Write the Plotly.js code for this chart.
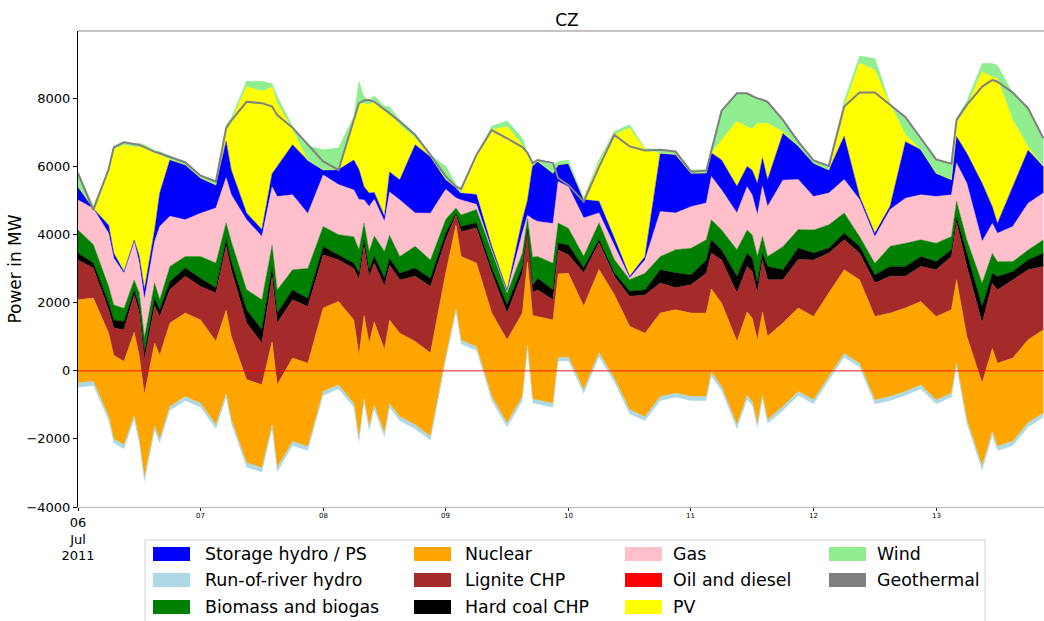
<!DOCTYPE html>
<html>
<head>
<meta charset="utf-8">
<script src="https://cdn.plot.ly/plotly-3.0.1.min.js"></script>
<style>html,body{margin:0;padding:0;background:#fff}</style>
</head>
<body>
<div id="chart" style="width:1044px;height:621px"></div>
<script>
// CZ generation snapshots, 6-13 July 2011 (MW)
const times = [
  '2011-07-06 00:00','2011-07-06 03:00','2011-07-06 06:00','2011-07-06 07:00','2011-07-06 09:00','2011-07-06 11:00','2011-07-06 12:00','2011-07-06 13:00','2011-07-06 15:00','2011-07-06 16:00','2011-07-06 18:00','2011-07-06 21:00',
  '2011-07-07 00:00','2011-07-07 03:00','2011-07-07 05:00','2011-07-07 06:00','2011-07-07 09:00','2011-07-07 12:00','2011-07-07 14:00','2011-07-07 15:00','2011-07-07 18:00','2011-07-07 21:00',
  '2011-07-08 00:00','2011-07-08 03:00','2011-07-08 06:00','2011-07-08 07:00','2011-07-08 08:00','2011-07-08 09:00','2011-07-08 10:00','2011-07-08 12:00','2011-07-08 13:00','2011-07-08 15:00','2011-07-08 18:00','2011-07-08 21:00',
  '2011-07-09 00:00','2011-07-09 02:00','2011-07-09 03:00','2011-07-09 06:00','2011-07-09 09:00','2011-07-09 12:00','2011-07-09 15:00','2011-07-09 16:00','2011-07-09 17:00','2011-07-09 18:00','2011-07-09 21:00','2011-07-09 22:00',
  '2011-07-10 00:00','2011-07-10 03:00','2011-07-10 06:00','2011-07-10 09:00','2011-07-10 12:00','2011-07-10 15:00','2011-07-10 18:00','2011-07-10 21:00',
  '2011-07-11 00:00','2011-07-11 03:00','2011-07-11 04:00','2011-07-11 06:00','2011-07-11 09:00','2011-07-11 11:00','2011-07-11 12:00','2011-07-11 13:00','2011-07-11 14:00','2011-07-11 15:00','2011-07-11 18:00','2011-07-11 21:00',
  '2011-07-12 00:00','2011-07-12 03:00','2011-07-12 06:00','2011-07-12 09:00','2011-07-12 12:00','2011-07-12 15:00','2011-07-12 18:00','2011-07-12 21:00',
  '2011-07-13 00:00','2011-07-13 03:00','2011-07-13 04:00','2011-07-13 06:00','2011-07-13 09:00','2011-07-13 11:00','2011-07-13 12:00','2011-07-13 15:00','2011-07-13 18:00','2011-07-13 21:00'
];

// Net balance below the generation stack (exports / pumping)
const balance = [
  -490,-440,-1470,-2120,-2300,-1440,-2150,-3270,-1760,-2120,-1170,-880,
  -1080,-1710,-800,-1560,-2830,-2980,-1720,-2980,-2200,-2350,
  -730,-540,-1080,-2120,-950,-1760,-1140,-1950,-1090,-1470,-1710,-2050,
  300,1700,780,590,-880,-1660,-880,620,-950,-980,-1080,270,
  290,-680,400,-340,-1270,-1470,-880,-780,
  -880,-880,-170,-590,-1710,-850,-1030,-1680,-850,-1560,-1170,-730,
  -980,-290,390,100,-980,-880,-730,-540,
  -980,-780,100,-1560,-2930,-1920,-2350,-2200,-1660,-1370
];

const runOfRiver = [
  130,130,120,120,120,120,120,120,120,120,120,120,
  120,120,120,130,130,130,130,130,120,120,
  120,120,120,120,120,120,120,120,120,120,120,120,
  110,110,110,110,120,120,120,120,120,120,120,110,
  110,120,120,120,120,120,120,120,
  120,120,120,120,120,120,120,120,120,120,120,120,
  120,120,110,110,120,120,120,120,
  120,120,110,120,130,130,130,130,130,130
];

const nuclear = [
  2440,2440,2450,2450,2450,2450,2450,2450,2450,2450,2450,2450,
  2450,2450,2450,2440,2440,2440,2440,2440,2450,2450,
  2450,2450,2450,2450,2450,2450,2450,2450,2450,2450,2450,2450,
  2460,2460,2460,2460,2450,2450,2450,2450,2450,2450,2450,2460,
  2460,2450,2450,2450,2450,2450,2450,2450,
  2450,2450,2450,2450,2450,2450,2450,2450,2450,2450,2450,2450,
  2450,2450,2460,2460,2450,2450,2450,2450,
  2450,2450,2460,2450,2440,2440,2440,2440,2440,2440
];

const ligniteChp = [
  1170,880,680,800,930,1090,1270,1030,1080,1140,980,1080,
  980,1420,1880,1950,1660,1220,1900,1810,1710,1660,
  1560,1220,1510,2220,2020,1950,1730,1860,1610,1560,1910,1950,
  980,300,730,1030,1170,780,1170,880,680,780,590,700,
  540,980,780,540,880,1120,880,640,
  830,1170,1050,1270,1420,1340,1370,1390,1530,1660,1270,1420,
  1660,1170,880,780,980,1080,930,1030,
  1370,1560,1680,2050,1760,1910,2150,2300,2050,1860
];

const hardCoalChp = [
  200,150,200,240,240,150,200,200,240,200,240,240,
  240,150,200,240,390,390,290,290,290,240,
  240,150,150,200,200,200,200,240,200,200,240,240,
  200,50,150,150,150,240,200,50,200,340,290,200,
  290,150,100,100,150,150,390,440,
  290,390,390,290,490,390,390,290,200,390,290,340,
  200,150,200,200,240,290,290,290,
  240,200,160,390,490,290,390,240,290,390
];

const biomass = [
  680,540,490,440,390,290,390,440,440,290,440,340,
  640,730,490,590,590,880,640,680,590,880,
  590,590,780,680,490,540,590,780,680,490,640,540,
  390,150,340,390,490,340,390,340,830,640,780,590,
  490,340,490,390,340,490,390,680,
  780,590,590,590,780,680,680,780,490,290,680,540,
  680,680,590,290,340,590,680,490,
  540,390,460,390,680,590,440,290,290,390
];

const gas = [
  880,1060,1560,1370,1030,1120,880,1120,1220,2150,1470,1080,
  1270,1610,1320,1370,2050,1860,1710,2740,2200,1610,
  1510,1470,1370,1470,680,1320,1080,880,1270,1660,980,1370,
  880,300,440,150,50,50,590,100,1120,1030,1170,1220,
  1220,1120,290,390,50,390,1320,1080,
  1220,1080,1270,1170,1080,1270,1170,1220,1470,1470,1950,1470,
  980,930,980,1080,780,1080,1320,1320,
  1370,1220,1120,1660,1220,880,830,1030,1370,1370
];

const storageHydro = [
  390,0,240,150,50,50,200,290,340,980,1660,1610,
  1030,680,1070,730,200,200,390,880,1470,1560,
  150,440,880,880,390,390,200,150,590,590,2000,1660,
  290,300,200,290,100,50,390,440,1560,1760,1470,490,
  680,540,340,240,50,100,1710,1710,
  980,880,690,880,780,590,730,930,830,780,1370,980,
  980,680,1270,100,100,100,1660,1320,
  680,440,780,880,1710,490,290,1170,1560,780
];

const pv = [
  0,0,1560,3050,3710,2730,3210,4180,2250,1120,0,0,
  0,0,390,1420,3710,4060,2540,1860,440,0,
  0,0,1170,1950,2440,2590,2690,3080,1760,1610,200,0,
  0,0,0,1120,3420,4790,2200,1340,0,0,0,0,
  0,0,1120,3030,4350,3130,0,0,
  0,0,0,590,1910,1170,1220,1760,1030,1660,50,0,
  0,0,880,3910,4790,2980,200,0,
  0,0,390,1370,3270,3810,4250,1950,100,0
];

const wind = [
  440,70,100,100,100,100,100,70,80,100,100,100,
  100,100,100,100,150,290,100,200,100,440,
  590,640,100,640,200,130,150,150,150,150,130,50,
  390,100,100,50,100,170,200,50,100,50,240,100,
  100,50,100,100,100,50,100,100,
  100,100,100,860,830,980,950,730,680,640,340,150,
  100,100,150,200,340,20,520,340,
  410,440,150,150,240,390,390,800,1170,830
];

// Demand curve drawn as a grey line over the stack
const load = [
  5790,4720,5910,6550,6700,6640,6620,6560,6420,6380,6280,6110,
  5720,5550,7110,7340,7890,7850,7750,7500,7130,6650,
  6140,5890,7410,7850,7930,7940,7890,7670,7550,7310,6920,6330,
  5700,5400,5330,6330,7060,6820,6560,6390,6090,6180,6090,5650,
  5450,4960,5980,6920,6580,6460,6480,6430,
  5840,5870,6480,7630,8140,8140,8060,7990,7950,7890,7360,6720,
  6170,6010,7750,8160,8160,7800,7440,6820,
  6200,6070,7360,7800,8330,8530,8480,8160,7700,6820
];

const dayTicks = ['2011-07-06','2011-07-07','2011-07-08','2011-07-09','2011-07-10','2011-07-11','2011-07-12','2011-07-13'];
const dayLabels = ['06<br>Jul<br>2011','07','08','09','10','11','12','13'];
const yTicks = [-4000,-2000,0,2000,4000,6000,8000];

// Stack order from bottom to top
const layers = [
  {name:'Run-of-river hydro', y: runOfRiver, color:'#add8e6'},
  {name:'Nuclear', y: nuclear, color:'#ffa500'},
  {name:'Lignite CHP', y: ligniteChp, color:'#a52a2a'},
  {name:'Hard coal CHP', y: hardCoalChp, color:'#000000'},
  {name:'Biomass and biogas', y: biomass, color:'#008000'},
  {name:'Gas', y: gas, color:'#ffc0cb'},
  {name:'Storage hydro / PS', y: storageHydro, color:'#0000ff'},
  {name:'PV', y: pv, color:'#ffff00'},
  {name:'Wind', y: wind, color:'#90ee90'}
];

const traces = [{
  x: times, y: balance, type:'scatter', mode:'lines', stackgroup:'gen',
  line:{width:0, color:'rgba(0,0,0,0)'}, fillcolor:'rgba(0,0,0,0)',
  showlegend:false, hoverinfo:'skip', name:'balance'
}];
layers.forEach(l => traces.push({
  x: times, y: l.y, type:'scatter', mode:'lines', stackgroup:'gen', name:l.name,
  line:{width:0.5, color:l.color}, fillcolor:l.color, showlegend:false
}));
traces.push({
  x: times, y: load, type:'scatter', mode:'lines', name:'Load',
  line:{color:'#808080', width:2}, showlegend:false
});

// Legend laid out in four columns below the axes
const legendCols = [
  [['Storage hydro / PS','#0000ff'],['Run-of-river hydro','#add8e6'],['Biomass and biogas','#008000']],
  [['Nuclear','#ffa500'],['Lignite CHP','#a52a2a'],['Hard coal CHP','#000000']],
  [['Gas','#ffc0cb'],['Oil and diesel','#ff0000'],['PV','#ffff00']],
  [['Wind','#90ee90'],['Geothermal','#808080']]
];
const L = 78, W = 966, B = 507, H = 476;
const px = p => (p - L) / W;
const py = p => (B - p) / H;
const colSwatch = [153, 414, 625, 829];
const colText = [203, 463, 671, 875];
const rowY = [554, 580, 607];

const shapes = [
  {type:'line', xref:'paper', yref:'y', x0:0, x1:1, y0:0, y1:0, line:{color:'rgba(255,0,0,0.6)', width:1.5}, layer:'above'},
  {type:'line', xref:'paper', yref:'paper', x0:0, x1:1, y0:1, y1:1, line:{color:'#888888', width:1}, layer:'above'},
  {type:'rect', xref:'paper', yref:'paper', x0:px(145), x1:px(985), y0:py(540), y1:py(640), line:{color:'#d0d0d0', width:1}, fillcolor:'rgba(255,255,255,0.8)'}
];
const annotations = [];
legendCols.forEach((col, ci) => col.forEach((it, ri) => {
  shapes.push({type:'rect', xref:'paper', yref:'paper', x0:px(colSwatch[ci]), x1:px(colSwatch[ci]+37),
    y0:py(rowY[ri]-7), y1:py(rowY[ri]+7), line:{width:0}, fillcolor:it[1]});
  annotations.push({xref:'paper', yref:'paper', x:px(colText[ci]), y:py(rowY[ri]), text:it[0], showarrow:false,
    xanchor:'left', yanchor:'middle', font:{family:'DejaVu Sans', size:17.4, color:'#000'}});
}));
dayTicks.slice(1).forEach((d, i) => annotations.push({
  xref:'x', yref:'paper', x:d, y:py(516), text:dayLabels[i+1], showarrow:false,
  xanchor:'center', yanchor:'middle', font:{family:'DejaVu Sans', size:7, color:'#000'}
}));

const layout = {
  width:1044, height:621,
  margin:{l:L, r:0, t:31, b:114},
  paper_bgcolor:'#fff', plot_bgcolor:'#fff',
  font:{family:'DejaVu Sans', color:'#000'},
  title:{text:'CZ', x:px(567), xref:'paper', xanchor:'center', y:1 - 20/621, yref:'container', yanchor:'middle',
    font:{family:'DejaVu Sans', size:17, color:'#000'}},
  showlegend:false,
  xaxis:{type:'date', range:['2011-07-06 00:00','2011-07-13 21:07'],
    tickmode:'array', tickvals:dayTicks, ticktext:[dayLabels[0],'','','','','','',''],
    ticks:'outside', ticklen:3, tickcolor:'#000', tickfont:{family:'DejaVu Sans', size:13, color:'#000'},
    showline:true, linecolor:'#bbbbbb', linewidth:1, showgrid:false, zeroline:false, fixedrange:true},
  yaxis:{range:[-4000, 9967], tickmode:'array', tickvals:yTicks, ticks:'outside', ticklen:4, tickcolor:'#000',
    tickfont:{family:'DejaVu Sans', size:13, color:'#000'}, showline:true, linecolor:'#000', linewidth:1,
    showgrid:false, zeroline:false, automargin:false,
    title:{text:'Power in MW', font:{family:'DejaVu Sans', size:17, color:'#000'}, standoff:0}},
  shapes: shapes,
  annotations: annotations
};

Plotly.newPlot('chart', traces, layout, {staticPlot:true, displayModeBar:false});
</script>
</body>
</html>
